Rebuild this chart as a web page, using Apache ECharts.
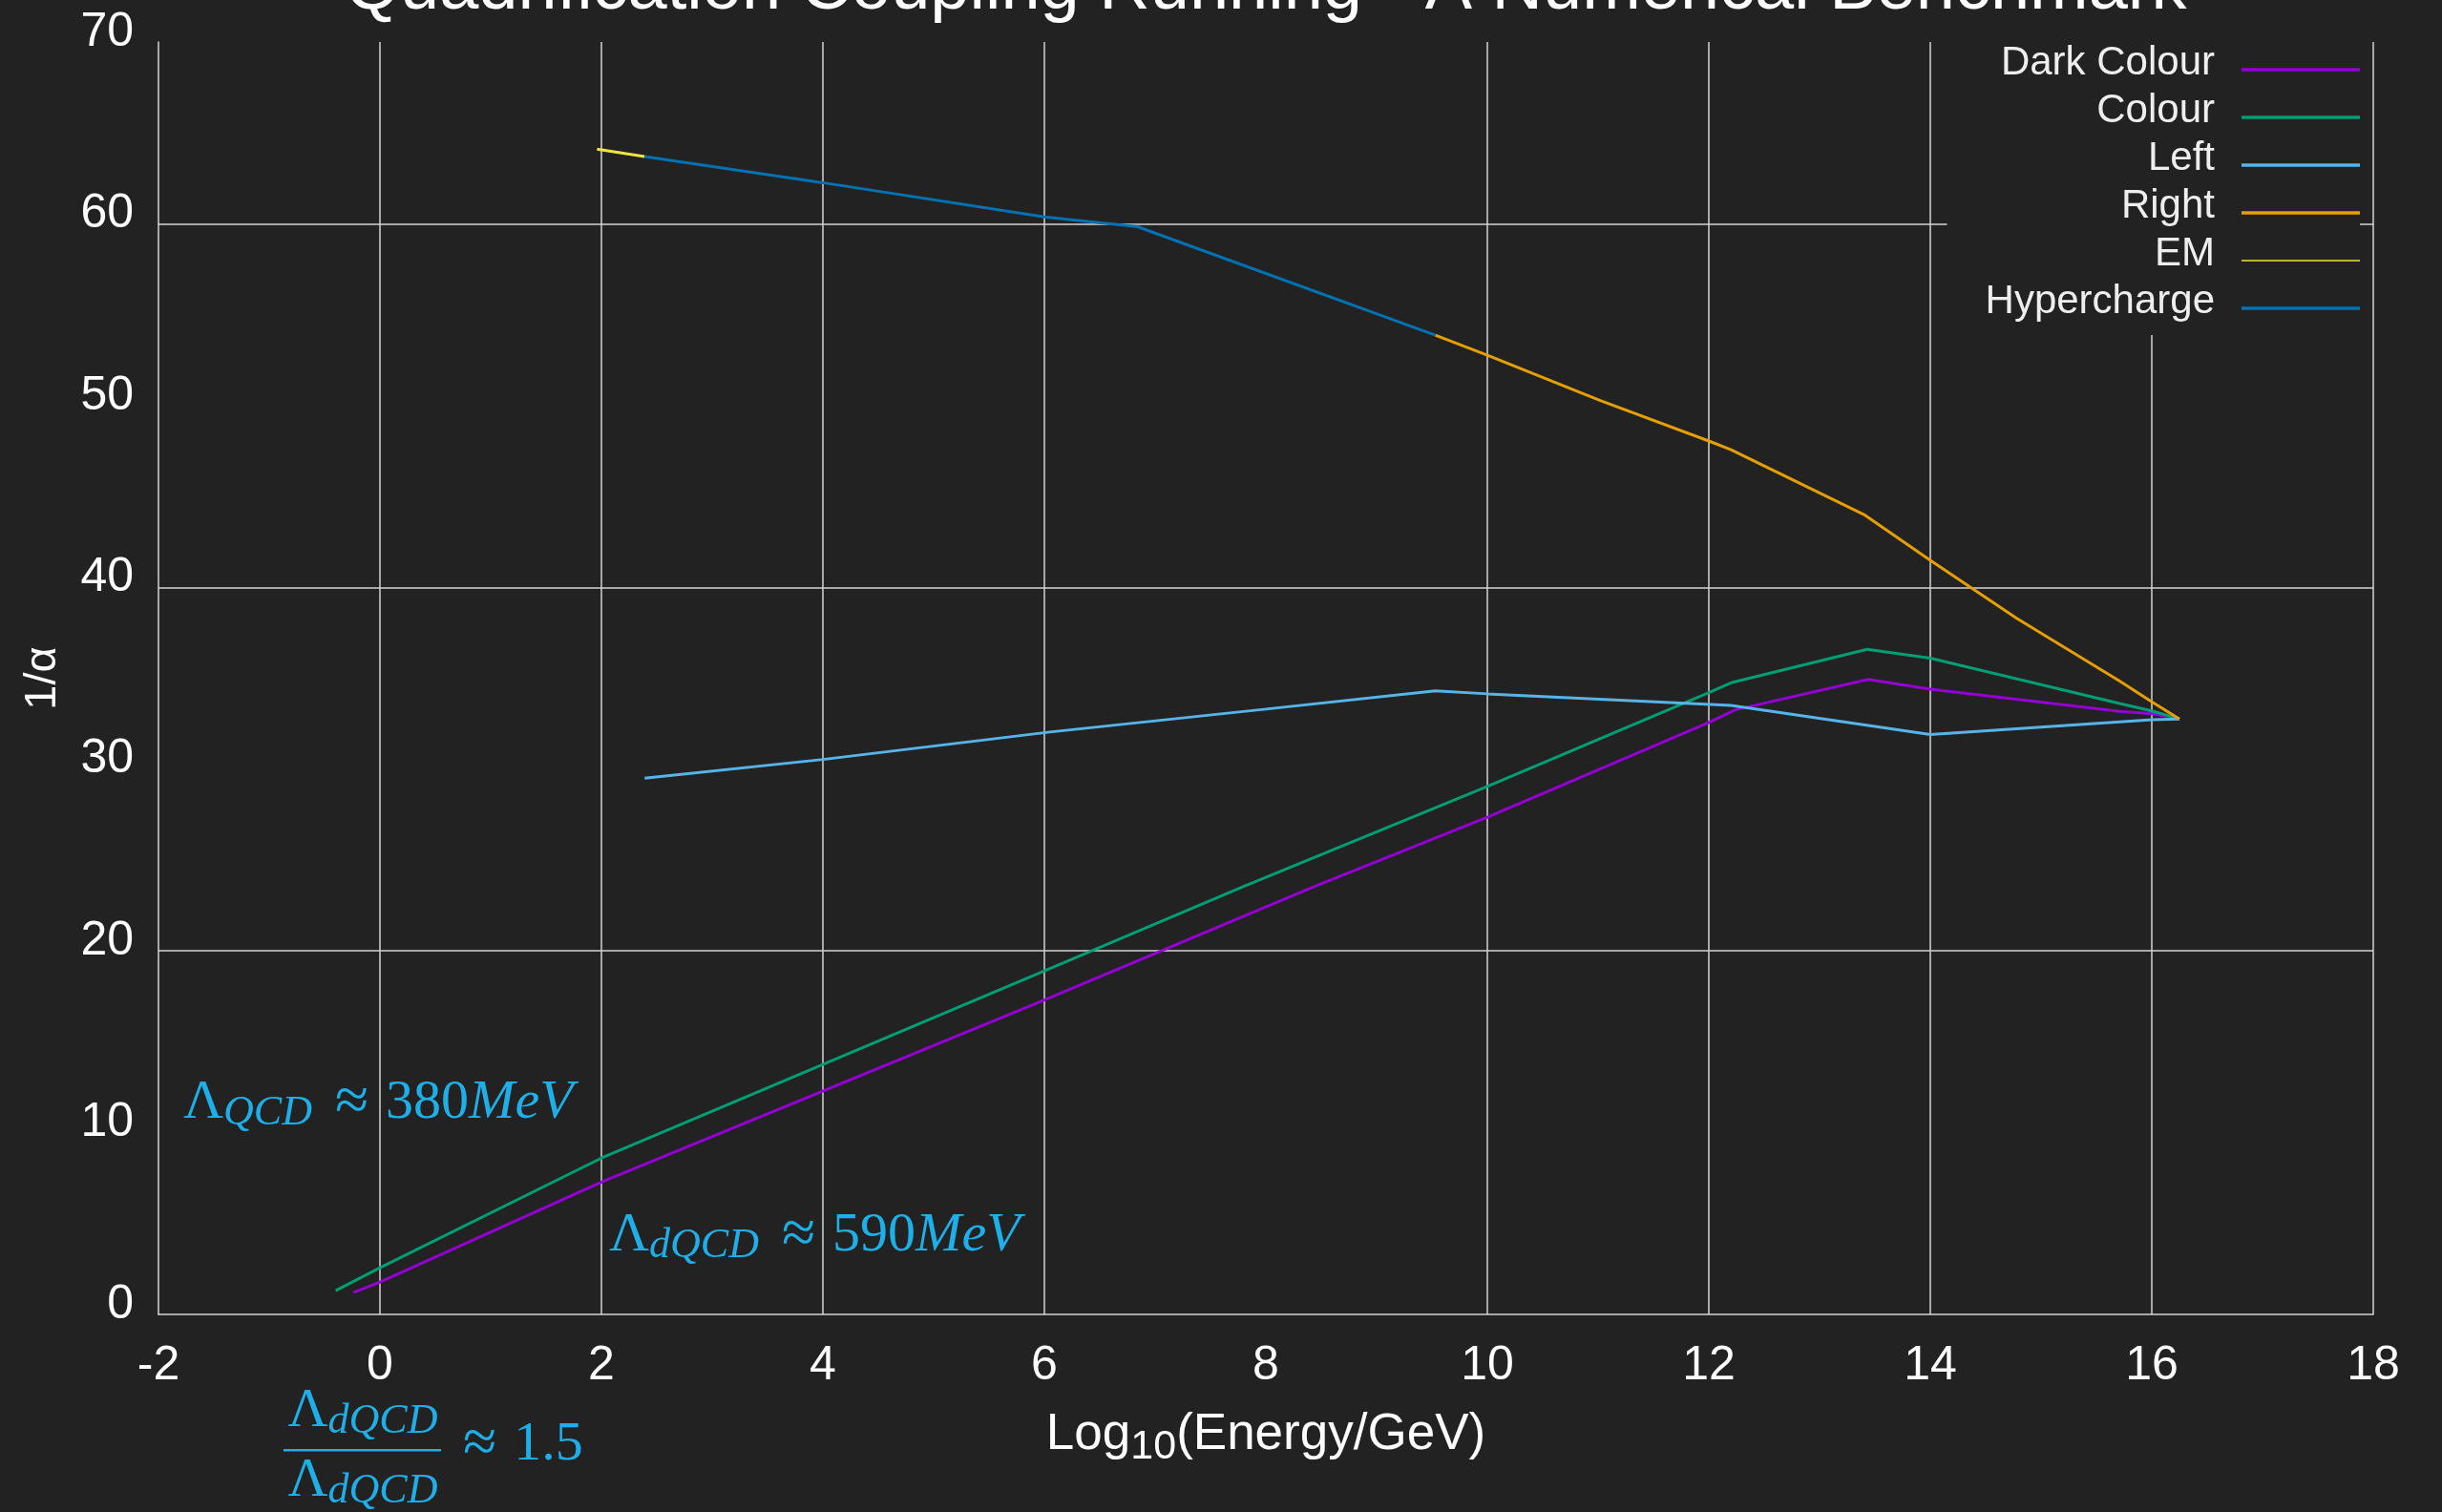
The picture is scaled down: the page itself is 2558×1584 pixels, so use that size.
<!DOCTYPE html>
<html>
<head>
<meta charset="utf-8">
<title>Quadrification Coupling Running</title>
<script src="https://cdn.jsdelivr.net/npm/echarts@6/dist/echarts.min.js"></script>
<style>
  html, body { margin: 0; padding: 0; background: #222222; }
  #chart { width: 2558px; height: 1584px; }
</style>
</head>
<body>
<div id="chart"></div>
<script>
// Inverse couplings 1/alpha against log10(E / GeV), one polyline per coupling.
const seriesNames = ['Dark Colour', 'Colour', 'Left', 'Right', 'EM', 'Hypercharge'];
const seriesColors = ['#9400d3', '#009e73', '#56b4e9', '#e69f00', '#f0e442', '#0072b2'];

const darkColour = [
  [-0.24, 1.2], [0, 1.78], [2, 7.28], [6, 17.3], [8.44, 23.55], [10, 27.35],
  [12, 32.56], [12.24, 33.26], [13.44, 34.93], [14, 34.4], [15.71, 33.18],
  [16, 33.05], [16.25, 32.76]
];
const colour = [
  [-0.4, 1.31], [0, 2.57], [2, 8.6], [6, 18.9], [7.8, 23.55], [10, 29.05],
  [12, 34.2], [12.2, 34.75], [13.43, 36.59], [14, 36.1], [15.71, 33.61],
  [16, 33.2], [16.25, 32.76]
];
const left = [
  [2.39, 29.5], [4, 30.53], [6.05, 32.04], [8, 33.3], [9.53, 34.31], [10, 34.14],
  [12.2, 33.5], [14, 31.9], [15.71, 32.6], [16, 32.72], [16.25, 32.76]
];
const right = [
  [9.53, 53.87], [10, 52.77], [11.02, 50.27], [12, 48.05], [12.2, 47.57],
  [13.41, 43.97], [14, 41.49], [14.78, 38.3], [15.71, 34.84], [16, 33.7], [16.25, 32.76]
];
const em = [[1.96, 64.1], [2.39, 63.7]];
const hypercharge = [[2.39, 63.7], [4, 62.26], [6, 60.38], [6.84, 59.84], [9.53, 53.87]];

const seriesData = [darkColour, colour, left, right, em, hypercharge];

// Axis ranges and the reference lines drawn across the plot
const xMin = -2, xMax = 18, xStep = 2;
const yMin = 0, yMax = 70, yStep = 10;
const gridXValues = [0, 2, 4, 6, 10, 12, 14, 16, 18];
const gridYValues = [20, 40, 60];

const chartTitle = 'Quadrification Coupling Running - A Numerical Benchmark';
const annotationColor = '#1eaee8';

const chart = echarts.init(document.getElementById('chart'), null, { renderer: 'canvas' });

const sansFont = 'Liberation Sans';
const serifFont = 'Liberation Serif';
const frameColor = '#d4d4d4';

const mathRich = {
  L: { fontSize: 58, fontFamily: serifFont, lineHeight: 64, fill: annotationColor },
  s: { fontSize: 44, fontFamily: serifFont, fontStyle: 'italic', lineHeight: 36, verticalAlign: 'bottom', fill: annotationColor },
  op: { fontSize: 64, fontFamily: serifFont, lineHeight: 64, padding: [0, 18, 0, 24], fill: annotationColor },
  n: { fontSize: 58, fontFamily: serifFont, lineHeight: 64, fill: annotationColor },
  i: { fontSize: 58, fontFamily: serifFont, fontStyle: 'italic', lineHeight: 64, fill: annotationColor }
};

const lineSeries = seriesNames.map((name, i) => ({
  name: name,
  type: 'line',
  data: seriesData[i],
  symbol: 'none',
  showSymbol: false,
  smooth: false,
  color: seriesColors[i],
  lineStyle: { color: seriesColors[i], width: 3 },
  z: 3,
  emphasis: { disabled: true }
}));

const gridSeries = {
  name: 'gridlines',
  type: 'line',
  data: [],
  symbol: 'none',
  silent: true,
  z: 1,
  markLine: {
    z: 1,
    silent: true,
    symbol: ['none', 'none'],
    label: { show: false },
    emphasis: { disabled: true },
    animation: false,
    lineStyle: { color: frameColor, width: 1.5, type: 'solid' },
    data: gridXValues.map(v => ({ xAxis: v })).concat(gridYValues.map(v => ({ yAxis: v })))
  }
};

const option = {
  backgroundColor: '#222222',
  animation: false,
  title: {
    text: chartTitle,
    left: 1326,
    top: -48,
    padding: 0,
    textAlign: 'center',
    textStyle: { color: '#ffffff', fontSize: 74, fontWeight: 'normal', fontFamily: sansFont }
  },
  grid: { left: 166, right: 72, top: 44, bottom: 207, containLabel: false },
  legend: {
    orient: 'vertical',
    right: 86,
    top: 37,
    align: 'right',
    padding: [8, 0, 0, 40],
    backgroundColor: '#222222',
    itemWidth: 124,
    itemHeight: 3.4,
    itemGap: -6,
    icon: 'rect',
    selectedMode: false,
    z: 6,
    formatter: '{t|{name}}',
    textStyle: {
      color: '#eeeeee', fontSize: 42, fontFamily: sansFont,
      rich: {
        t: { color: '#eeeeee', fontSize: 42, fontFamily: sansFont, lineHeight: 30, padding: [0, 23, 14, 0] }
      }
    },
    data: seriesNames.map(n => n === 'EM' ? { name: n, icon: 'path://M0,0H124V1.7H0Z' } : { name: n })
  },
  xAxis: {
    type: 'value',
    min: xMin, max: xMax, interval: xStep,
    axisLine: { show: true, onZero: false, lineStyle: { color: frameColor, width: 1.5 } },
    axisTick: { show: false },
    splitLine: { show: false },
    axisLabel: { color: '#ffffff', fontSize: 50, fontFamily: sansFont, margin: 29 },
    name: '{a|Log}{s|10}{a|(Energy/GeV)}',
    nameLocation: 'middle',
    nameGap: 91,
    nameTextStyle: {
      color: '#ffffff',
      rich: {
        a: { fontSize: 53, fontFamily: sansFont, color: '#ffffff', lineHeight: 70 },
        s: { fontSize: 43, fontFamily: sansFont, color: '#ffffff', lineHeight: 42, verticalAlign: 'bottom' }
      }
    }
  },
  yAxis: {
    type: 'value',
    min: yMin, max: yMax, interval: yStep,
    axisLine: { show: true, onZero: false, lineStyle: { color: frameColor, width: 1.5 } },
    axisTick: { show: false },
    splitLine: { show: false },
    axisLabel: { color: '#ffffff', fontSize: 50, fontFamily: sansFont, margin: 26, verticalAlign: 'bottom', lineHeight: 20 },
    name: '1/α',
    nameLocation: 'middle',
    nameGap: 97,
    nameTextStyle: { color: '#ffffff', fontSize: 47, fontFamily: sansFont }
  },
  graphic: [
    {
      type: 'text', x: 192, y: 1124, z: 10,
      style: { text: '{L|Λ}{s|QCD}{op|≈}{n|380}{i|MeV}', rich: mathRich, verticalAlign: 'top' }
    },
    {
      type: 'text', x: 638, y: 1263, z: 10,
      style: { text: '{L|Λ}{s|dQCD}{op|≈}{n|590}{i|MeV}', rich: mathRich, verticalAlign: 'top' }
    },
    {
      type: 'text', x: 380, y: 1447, z: 10,
      style: { text: '{L|Λ}{s|dQCD}', rich: mathRich, align: 'center', verticalAlign: 'top' }
    },
    {
      type: 'rect', z: 10,
      shape: { x: 297, y: 1518, width: 165, height: 2.6 },
      style: { fill: annotationColor }
    },
    {
      type: 'text', x: 380, y: 1520, z: 10,
      style: { text: '{L|Λ}{s|dQCD}', rich: mathRich, align: 'center', verticalAlign: 'top' }
    },
    {
      type: 'text', x: 461, y: 1482, z: 10,
      style: { text: '{op|≈}{n|1.5}', rich: mathRich, verticalAlign: 'top' }
    }
  ],
  series: [gridSeries].concat(lineSeries)
};

chart.setOption(option);
</script>
</body>
</html>
